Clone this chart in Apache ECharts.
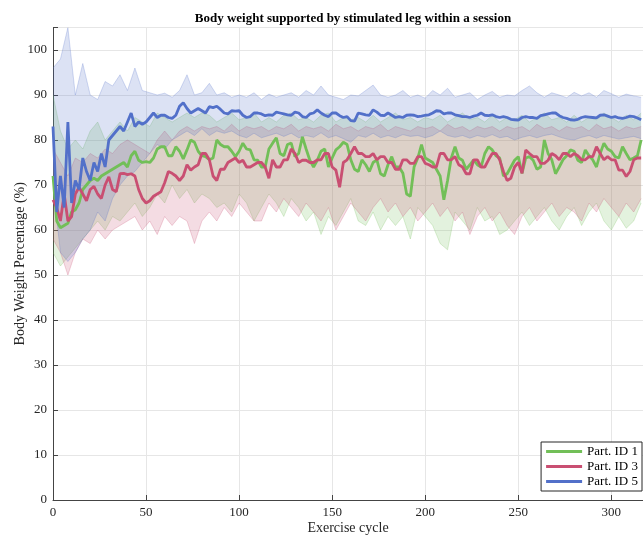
<!DOCTYPE html>
<html>
<head>
<meta charset="utf-8">
<script src="https://cdn.jsdelivr.net/npm/echarts@6/dist/echarts.min.js"></script>
<style>html,body{margin:0;padding:0;background:#fff;}#c{width:643px;height:537px;}</style>
</head>
<body>
<div id="c"></div>
<script>
// Mean lines, one value every 2 exercise cycles (0, 2, ..., 316)
const greenMean = [72,62,60.5,61,61.5,64,64.5,66,69,70, 71,71.5,71,72,72.5,73,73.5,74,74.5,75, 74,76.5,77.5,75.5,75,75.2,75,76,78,78.5, 78.5,76.5,76.5,78.5,77.5,75.8,77.8,80,79.5,77.5, 76.5,76.3,75.6,76,80,79,78.5,78.5,77.5,76.3, 77.5,79.3,78,77.8,75.6,75.5,74,74,78,79.3, 80.5,77,76.5,79,79.3,76.3,77,80.7,78,75.5, 74,75.5,77.5,78,74,76,77.8,78.5,79.5,79, 75.6,73.5,73,75.6,74.5,73,75,75.6,72.5,72, 74.5,76.3,74,74,72.6,68,67.5,74,76,79, 76,75.5,75,73.5,72,66.7,71,76,78.5,76, 75.5,73.5,74.5,75.6,74.5,74,77,78.5,77.8,76.5, 76,72,72.5,74,75.5,76.3,72.6,76,76.3,75.5, 73.5,74,80,77,75.6,72.5,74,75.6,76.5,77.8, 77.5,75.5,75,77.8,76.5,75.6,74,77,79.3,78, 77.5,76.3,76,78.5,77,75.6,76,76.5,80];
const redMean = [66.7,65,62,68,62,63,68,69.5,68,66.5, 69,69.7,68,67,70,71.8,69,68.5,72.5,72.6, 72.3,72.5,72,69,67,66,66.5,67.5,68,68.5, 70.5,73,72.6,72,71,72,74.5,73.3,74,74.5, 77,77,75.6,72,71,73.5,73.5,75,75.5,76, 75,75.5,74,74,74.5,75,75,74,71.5,75.6, 74,74,75.6,75.6,78,77,75,75.5,75.5,75, 75,75.6,75.6,77,77,74,73.3,69.5,75,75.6, 77,78.5,77,77,76.3,76.3,77,75.6,76.3,76.3, 75,75,73.5,73.5,75.6,75.6,74.8,74.8,76.3,76.3, 74.8,74.5,74,74,77,77,75.6,75.6,76.3,74.5, 74,72.5,72.5,75.6,75.6,74,74,75.6,77,77, 75.6,73,71,71.5,74,75,72.6,77.8,77,76.3, 76.3,74.8,74.8,75.5,77,76.5,75.6,77,77,76.3, 77,76.5,75.6,75.6,76.3,76.3,78.5,77,75.6,76.3, 75.6,75.6,73.3,73.3,71.9,73,75.6,76,76];
const blueMean = [83,64,72,65,84,66,71,69,76,73, 71,75,73,77,74,80,81,82,83,82, 84,86,83,84,83.5,84,85,86,85,85.5, 85.5,85,84.8,85.5,87.5,88.3,87,86,86.5,87, 86.5,86,87.4,87.2,87.5,86.8,86,85.8,86.5,86.4, 86.5,85.5,85,85.2,86,86,85.8,85.4,85.6,85.5, 86.2,86,85.8,85.6,85.5,86.2,86,85.2,85,85.8, 86,86.7,86,85.5,85.2,86,86,85.4,85,85.2, 84.3,84.2,86,85.8,85.6,85.5,86.7,86.2,85.5,85.4, 86,85.5,85,85.2,85,85.5,85.6,85.5,85.2,85.3, 85.5,85.6,86,86.5,86.4,85.8,86,86,85.6,85.4, 85.2,85.2,85,85.3,85.5,86,85.5,85.4,85.6,85.2, 85,85.2,85,84.6,84.5,84.4,85,85.2,85,85, 84.8,85.4,85.6,85.8,86,86,85.4,85,84.8,84.5, 84.4,84.6,85,85.2,85.1,85,84.9,85.5,85.6,85.3, 85,85.2,84.9,84.8,85,85.3,85.2,84.9,84.5];

// Shaded bands, one value every 4 exercise cycles (0, 4, ..., 316)
const greenUpper = [90,82,78,80,78,82,84,80,82,84, 82,85,84,83,86,85,84,85,86,85, 86,85.5,84,85,86,84.5,85,86,84,85, 84,85.5,86,84.5,85,84,85.5,86,84,85, 84.5,85,84,85.5,84,85,86,84.5,85,84, 85,84.5,85.5,84,85,86,84.5,85,84,85.5, 84,85,84.5,85.5,84,85,86,84.5,85,84, 85.5,84,85,84.5,86,85,84,85.5,84.5,86];
const greenLower = [55,52,54,56,58,60,62,60,63,62, 64,66,63,65,68,66,70,67,69,66, 68,67,65,66,64,68,66,62,65,68, 66,63,67,65,62,64,59,63,61,64, 67,62,61,64,60,63,61,63,58,65, 63,61,57,55.6,64,62,60,65,62,63, 59,60,62,64,61,63,65,62,60,63, 65,61,64,66,62,60,63,60.4,62,66];
const redUpper = [78,75,72,76,75,77,76,78,77,79, 80,79,78,77,80,82,80,82,83,82, 83,82.5,83,82,83.5,82,83,82.5,83,82, 83,82.5,83.5,82,83,82.5,83,82,83.5,82.5, 83,82,83,82.5,83.5,82,83,82.5,82,83, 82.5,83,82,83.5,82.5,83,82,83,82.5,83, 82,83,82.5,83,82,83.5,82.5,83,82,83, 82.5,83,82,83.5,82.5,83,82,83,82.5,83];
const redLower = [58,55,50,55,58,57,60,58,60,61, 62,63,60,62,59,63,61,63,62,57, 62,64,62,65,63,66,64,62,62,66, 64,67,65,63,66,64,62,65,60,63, 66,64,62,65,67,64,66,63,65,62, 64,66,63,65,62,64,59,63,65,62, 64,61,59,63,65,62,64,66,63,65, 64,62,66,64,67,65,63,66,64,67];
const blueUpper = [96,98,105,90,97,90,89,93,92,94.5, 91,96,91,90.5,90,90.4,89.5,91,94.5,90, 90.5,92.6,90,90.5,89.5,90,89.5,90.5,89,90.2, 89.5,90,90.5,89.5,91,90,92,90,89.5,89, 90,89.8,91,92.2,90,89.5,90,91,89.5,90, 89.3,91,90,91.5,89.5,90,90.5,89,90,90.8, 89.5,90,89.8,91,92,90.5,89.5,90.5,90,89.4, 90.6,89.8,90.5,89.5,91,90.3,89.5,90.2,89.8,89.5];
const blueLower = [70,55,53,55,58,60,64,62,67,70, 72,73,75,77,79,78,80,81,82,81, 82.5,81,82,81.5,82,81,80.5,81.5,80.5,81, 81.5,80.8,81.5,80.5,81,80.6,81.6,80.5,81,80.3, 79.5,81,80.6,81.5,80.5,81,80.5,81.2,80.8,81, 80.5,81,82,81,80.6,81,80.4,81,80.6,81.2, 80.5,80.8,80,80.6,81,80.5,81,81.3,80.7,80.2, 80,80.6,81,80.4,81,80.6,80.2,80.5,80.8,80.3];

const names = ['Part. ID 1', 'Part. ID 3', 'Part. ID 5'];
const yTicks = [0,10,20,30,40,50,60,70,80,90,100];
const xTicks = [0,50,100,150,200,250,300];

const colors = ['#72bf58', '#c94f72', '#5270c9'];
const bandRGB = ['114,191,88', '201,79,114', '82,112,201'];

const pairs = (arr, step) => arr.map((v, i) => [i * step, v]);
const means = [greenMean, redMean, blueMean];
const bands = [[greenLower, greenUpper], [redLower, redUpper], [blueLower, blueUpper]];

const series = [];
bands.forEach((b, k) => {
  const lo = b[0], hi = b[1];
  const rows = lo.map((v, i) => [i * 4, v, hi[i]]);
  series.push({
    name: 'band' + k, type: 'custom', silent: true, z: 1, clip: true,
    data: rows,
    encode: { x: 0, y: [1, 2] },
    renderItem: function (params, api) {
      if (params.dataIndex !== 0) return null;
      const top = rows.map(r => api.coord([r[0], r[2]]));
      const bot = rows.map(r => api.coord([r[0], r[1]])).reverse();
      return {
        type: 'group',
        children: [
          { type: 'polygon', shape: { points: top.concat(bot) },
            style: { fill: 'rgba(' + bandRGB[k] + ',0.2)', stroke: 'none' } },
          { type: 'polyline', shape: { points: top },
            style: { fill: 'none', stroke: 'rgba(' + bandRGB[k] + ',0.35)', lineWidth: 0.7 } },
          { type: 'polyline', shape: { points: bot },
            style: { fill: 'none', stroke: 'rgba(' + bandRGB[k] + ',0.35)', lineWidth: 0.7 } }
        ]
      };
    }
  });
});
means.forEach((m, k) => {
  series.push({
    name: names[k], type: 'line', data: pairs(m, 2), showSymbol: false, z: 3,
    color: colors[k], lineStyle: { width: 2.8, color: colors[k] }
  });
});

const font = 'Liberation Serif';
const chart = echarts.init(document.getElementById('c'));
chart.setOption({
  animation: false,
  backgroundColor: '#fff',
  title: {
    text: 'Body weight supported by stimulated leg within a session',
    left: 348, top: 7, textAlign: 'center',
    textStyle: { fontFamily: font, fontWeight: 'bold', fontSize: 13, color: '#000' }
  },
  grid: { left: 53, right: 0, top: 27.5, bottom: 37, containLabel: false, outerBoundsMode: 'none' },
  legend: {
    data: names, orient: 'vertical', right: 1, bottom: 46,
    backgroundColor: '#fff', borderColor: '#262626', borderWidth: 1, borderRadius: 0,
    padding: [3, 4, 3, 5], itemGap: 2, itemWidth: 36, itemHeight: 3, icon: 'rect',
    textStyle: { fontFamily: font, fontSize: 13, color: '#000' }
  },
  xAxis: {
    type: 'value', min: 0, max: 317, interval: 50,
    name: 'Exercise cycle', nameLocation: 'middle', nameGap: 21, nameMoveOverlap: false,
    nameTextStyle: { fontFamily: font, fontSize: 14, color: '#262626' },
    axisLine: { show: true, lineStyle: { color: '#444', width: 1 } },
    axisTick: { show: true, inside: true, length: 5, lineStyle: { color: '#444' } },
    axisLabel: { fontFamily: font, fontSize: 13, color: '#262626', margin: 6, showMaxLabel: false,
      formatter: v => xTicks.includes(v) ? String(v) : '' },
    splitLine: { show: true, lineStyle: { color: '#e6e6e6', width: 1 } }
  },
  yAxis: {
    type: 'value', min: 0, max: 105, interval: 10,
    name: 'Body Weight Percentage (%)', nameLocation: 'middle', nameGap: 26, nameMoveOverlap: false,
    nameTextStyle: { fontFamily: font, fontSize: 14, color: '#262626' },
    axisLine: { show: true, lineStyle: { color: '#444', width: 1 } },
    axisTick: { show: true, inside: true, length: 5, lineStyle: { color: '#444' } },
    axisLabel: { fontFamily: font, fontSize: 13, color: '#262626', margin: 6,
      formatter: v => yTicks.includes(v) ? String(v) : '' },
    splitLine: { show: true, lineStyle: { color: '#e6e6e6', width: 1 } }
  },
  series: series
});
</script>
</body>
</html>
